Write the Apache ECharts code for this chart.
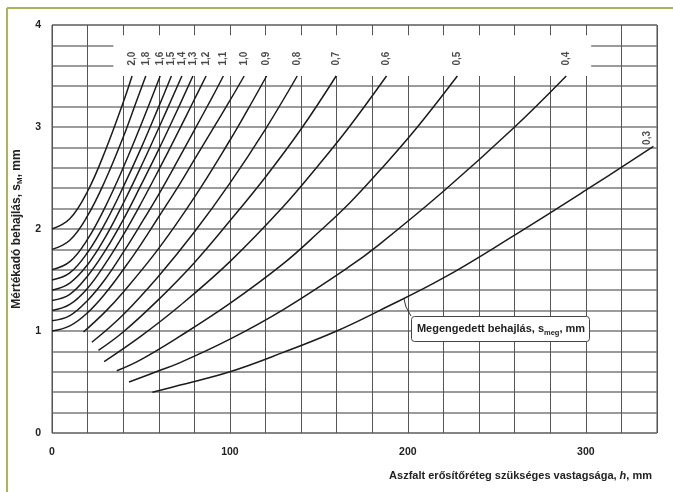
<!DOCTYPE html>
<html>
<head>
<meta charset="utf-8">
<title>Mértékadó behajlás</title>
<script src="https://cdn.jsdelivr.net/npm/echarts@6/dist/echarts.min.js"></script>
<style>
  html, body { margin: 0; padding: 0; background: #fff; }
  #chart { width: 673px; height: 492px; }
</style>
</head>
<body>
<div id="chart"></div>
<script>
  // h (mm) - s_M (mm) pontok, görbénként (megengedett behajlás szerint)
  var curve20 = [[0, 2.00], [10, 2.10], [20, 2.37], [30, 2.77], [40, 3.24], [45, 3.50]];
  var curve18 = [[0, 1.80], [10, 1.89], [20, 2.13], [30, 2.48], [40, 2.90], [47, 3.23], [52.7, 3.50]];
  var curve16 = [[0, 1.60], [10, 1.68], [20, 1.90], [30, 2.22], [40, 2.60], [50, 3.02], [60.8, 3.50]];
  var curve15 = [[0, 1.50], [10, 1.57], [20, 1.77], [30, 2.06], [40, 2.41], [50, 2.79], [60, 3.20], [67.1, 3.50]];
  var curve14 = [[0, 1.40], [10, 1.47], [20, 1.65], [30, 1.92], [40, 2.25], [50, 2.61], [60, 2.99], [73, 3.50]];
  var curve13 = [[0, 1.30], [10, 1.36], [20, 1.54], [30, 1.79], [40, 2.09], [50, 2.43], [60, 2.78], [70, 3.15], [79.2, 3.50]];
  var curve12 = [[0, 1.20], [10, 1.26], [20, 1.42], [30, 1.66], [40, 1.94], [50, 2.25], [60, 2.58], [70, 2.92], [80, 3.27], [86.6, 3.50]];
  var curve11 = [[0, 1.10], [10, 1.15], [20, 1.30], [30, 1.51], [40, 1.77], [50, 2.05], [60, 2.34], [70, 2.65], [80, 2.97], [90, 3.29], [96.3, 3.50]];
  var curve10 = [[0, 1.00], [10, 1.05], [20, 1.18], [30, 1.37], [40, 1.60], [50, 1.85], [60, 2.12], [70, 2.39], [80, 2.68], [90, 2.97], [100, 3.26], [108, 3.50]];
  var curve09 = [[17.7, 0.99], [30, 1.19], [40, 1.38], [60, 1.81], [80, 2.31], [100, 2.87], [110, 3.17], [120.6, 3.50]];
  var curve08 = [[22.4, 0.89], [40, 1.16], [60, 1.54], [80, 1.97], [100, 2.45], [120, 2.98], [137.8, 3.50]];
  var curve07 = [[26.1, 0.81], [40, 0.99], [60, 1.31], [80, 1.67], [100, 2.08], [120, 2.51], [140, 2.98], [159.7, 3.50]];
  var curve06 = [[29.3, 0.70], [50, 0.95], [72, 1.25], [100, 1.68], [130, 2.22], [150, 2.63], [167, 3.00], [188, 3.50]];
  var curve05 = [[36.4, 0.61], [50, 0.72], [72, 0.95], [100, 1.27], [130, 1.66], [150, 1.97], [167, 2.25], [184, 2.57], [203.5, 2.96], [227.8, 3.50]];
  var curve04 = [[43.3, 0.50], [60, 0.61], [72, 0.69], [100, 0.92], [130, 1.21], [167, 1.63], [184, 1.85], [220, 2.37], [260, 3.00], [289, 3.50]];
  var curve03 = [[56.4, 0.40], [72, 0.47], [100, 0.60], [130, 0.79], [160, 1.00], [184, 1.20], [220, 1.52], [260, 1.94], [300, 2.38], [338, 2.81]];

  var curveNames = ['2,0', '1,8', '1,6', '1,5', '1,4', '1,3', '1,2', '1,1', '1,0', '0,9', '0,8', '0,7', '0,6', '0,5', '0,4', '0,3'];
  var curveData = [curve20, curve18, curve16, curve15, curve14, curve13, curve12, curve11, curve10,
    curve09, curve08, curve07, curve06, curve05, curve04, curve03];

  var xTickLabels = [0, 100, 200, 300];
  var yTickLabels = [0, 1, 2, 3, 4];

  var fontFam = '"Liberation Sans", Arial, sans-serif';

  function isTick(list, v) {
    for (var i = 0; i < list.length; i++) {
      if (Math.abs(list[i] - v) < 1e-6) return true;
    }
    return false;
  }

  var series = [];
  curveData.forEach(function (pts, i) {
    series.push({
      name: curveNames[i],
      type: 'line',
      smooth: 0.4,
      symbol: 'none',
      z: 3,
      silent: true,
      lineStyle: { color: '#1c1c1c', width: 1.5 },
      data: pts
    });
  });

  // görbecímkék a görbék végpontjainál
  var lastIdx = curveData.length - 1;
  series.push({
    name: 'cimkek',
    type: 'scatter',
    symbolSize: 1,
    z: 4,
    silent: true,
    itemStyle: { color: 'rgba(0,0,0,0)' },
    data: curveData.map(function (pts, i) {
      var end = pts[pts.length - 1];
      var item = { value: end, name: curveNames[i] };
      if (i === lastIdx) {
        // forgatott keretben: [felfelé, jobbra]
        item.label = { distance: 1, offset: [0, -6] };
      }
      return item;
    }),
    label: {
      show: true,
      position: 'top',
      distance: 10,
      rotate: 90,
      align: 'left',
      verticalAlign: 'middle',
      formatter: function (p) { return p.name; },
      color: '#1c1c1c',
      fontSize: 10,
      fontWeight: 'bold',
      fontFamily: fontFam
    },
    // üres sáv a címkék mögött
    markArea: {
      silent: true,
      itemStyle: { color: '#fff' },
      data: [[{ coord: [34.5, 3.5] }, { coord: [303, 3.9] }]]
    }
  });

  var option = {
    backgroundColor: '#fff',
    animation: false,
    grid: {
      left: 52, right: 16, top: 25, bottom: 59,
      show: true, borderColor: '#4a4a4a', borderWidth: 1
    },
    xAxis: {
      type: 'value', min: 0, max: 340, interval: 20,
      axisLine: { show: false },
      axisTick: { show: false },
      axisLabel: {
        margin: 14, color: '#222', fontSize: 10.5, fontWeight: 'bold', fontFamily: fontFam,
        formatter: function (v) { return isTick(xTickLabels, v) ? String(v) : ''; }
      },
      splitLine: { show: true, lineStyle: { color: '#555', width: 1 } }
    },
    yAxis: {
      type: 'value', min: 0, max: 4, interval: 0.2,
      axisLine: { show: false },
      axisTick: { show: false },
      axisLabel: {
        margin: 11, color: '#222', fontSize: 10.5, fontWeight: 'bold', fontFamily: fontFam,
        formatter: function (v) { return isTick(yTickLabels, v) ? String(Math.round(v)) : ''; }
      },
      splitLine: { show: true, lineStyle: { color: '#7a7a7a', width: 1.5 } },
      name: '{n|Mértékadó behajlás, s}{sub|M}{n|, mm}',
      nameLocation: 'middle',
      nameGap: 20,
      nameRotate: 90,
      nameTextStyle: {
        rich: {
          n: { fontSize: 12, fontWeight: 'bold', color: '#222', fontFamily: fontFam, lineHeight: 15 },
          sub: { fontSize: 8, fontWeight: 'bold', color: '#222', fontFamily: fontFam, verticalAlign: 'bottom', lineHeight: 15 }
        }
      }
    },
    graphic: [
      // keret (olíva vonal)
      { type: 'line', shape: { x1: 7, y1: 8, x2: 673, y2: 8 }, style: { stroke: '#a9b55a', lineWidth: 2 }, silent: true },
      { type: 'line', shape: { x1: 7, y1: 8, x2: 7, y2: 492 }, style: { stroke: '#a9b55a', lineWidth: 2 }, silent: true },
      // x tengely felirata
      {
        type: 'text', right: 21, top: 470, silent: true,
        style: {
          text: '{a|Aszfalt erősítőréteg szükséges vastagsága, }{i|h}{a|, mm}',
          rich: {
            a: { fontSize: 11, fontWeight: 'bold', fill: '#222', fontFamily: fontFam },
            i: { fontSize: 11, fontWeight: 'bold', fontStyle: 'italic', fill: '#222', fontFamily: fontFam }
          }
        }
      },
      // megengedett behajlás jelmagyarázat
      { type: 'polyline', shape: { points: [[404, 299], [406, 307], [411, 316]] }, style: { stroke: '#333', lineWidth: 1, fill: null }, silent: true, z: 10 },
      { type: 'rect', shape: { x: 411.5, y: 316.5, width: 178, height: 25, r: 3 }, style: { stroke: '#444', lineWidth: 1, fill: '#fff' }, silent: true, z: 10 },
      {
        type: 'text', x: 501, y: 329, silent: true, z: 11,
        style: {
          text: '{a|Megengedett behajlás, s}{sub|meg}{a|, mm}',
          align: 'center', verticalAlign: 'middle',
          rich: {
            a: { fontSize: 11, fontWeight: 'bold', fill: '#222', fontFamily: fontFam, lineHeight: 15 },
            sub: { fontSize: 7.5, fontWeight: 'bold', fill: '#222', fontFamily: fontFam, verticalAlign: 'bottom', lineHeight: 15 }
          }
        }
      }
    ],
    series: series
  };

  var chart = echarts.init(document.getElementById('chart'));
  chart.setOption(option);
</script>
</body>
</html>
